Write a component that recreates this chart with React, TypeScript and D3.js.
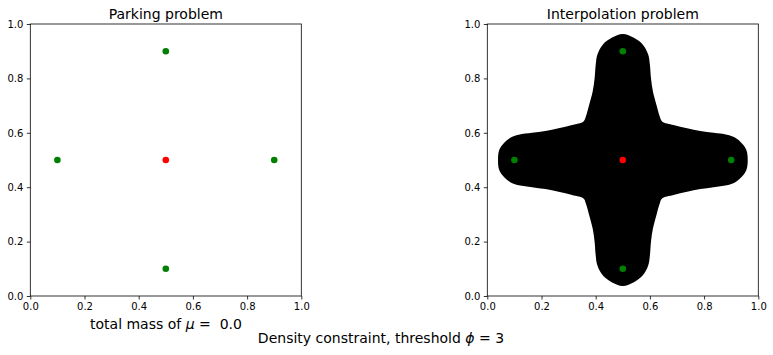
import { useEffect, useRef } from "react";
import * as d3 from "d3";

// tick labels shared by both panels
const tickValues = [0, 0.2, 0.4, 0.6, 0.8, 1.0];

// points of the problem (same on both panels)
const greenPoints = [
  { x: 0.5, y: 0.9 },
  { x: 0.1, y: 0.5 },
  { x: 0.9, y: 0.5 },
  { x: 0.5, y: 0.1 },
];
const redPoints = [{ x: 0.5, y: 0.5 }];

// outline of the black region on the interpolation panel
const regionOutline: [number, number][] = [
  [0.5, 0.963], [0.541, 0.949], [0.574, 0.924], [0.594, 0.887], [0.6, 0.85],
  [0.604, 0.801], [0.611, 0.753], [0.624, 0.703], [0.636, 0.661], [0.645, 0.642],
  [0.687, 0.629], [0.737, 0.617], [0.786, 0.607], [0.835, 0.6], [0.884, 0.593],
  [0.915, 0.582], [0.94, 0.561], [0.956, 0.537], [0.961, 0.5], [0.956, 0.463],
  [0.94, 0.439], [0.915, 0.418], [0.884, 0.407], [0.835, 0.4], [0.786, 0.393],
  [0.737, 0.383], [0.687, 0.371], [0.645, 0.358],
  [0.636, 0.339], [0.624, 0.297], [0.611, 0.247], [0.604, 0.199], [0.6, 0.15],
  [0.594, 0.113], [0.574, 0.076], [0.541, 0.051], [0.5, 0.037], [0.459, 0.051],
  [0.426, 0.076], [0.406, 0.113], [0.4, 0.15], [0.396, 0.199], [0.389, 0.247],
  [0.376, 0.297], [0.364, 0.339], [0.355, 0.358],
  [0.313, 0.371], [0.263, 0.383], [0.214, 0.393], [0.165, 0.4], [0.116, 0.407],
  [0.085, 0.418], [0.06, 0.439], [0.044, 0.463], [0.0395, 0.5], [0.044, 0.537],
  [0.06, 0.561], [0.085, 0.582], [0.116, 0.593], [0.165, 0.6], [0.214, 0.607],
  [0.263, 0.617], [0.313, 0.629], [0.355, 0.642],
  [0.364, 0.661], [0.376, 0.703], [0.389, 0.753], [0.396, 0.801], [0.4, 0.85],
  [0.406, 0.887], [0.426, 0.924], [0.459, 0.949],
];

const panels = [
  { title: "Parking problem", left: 30.3, region: null },
  { title: "Interpolation problem", left: 487.3, region: regionOutline },
];

const FONT = "DejaVu Sans";

const App = () => {
  const svgRef = useRef<SVGSVGElement | null>(null);

  useEffect(() => {
    const svg = d3.select(svgRef.current);
    svg.selectAll("*").remove();

    const top = 24;
    const size = 272;

    panels.forEach((p) => {
      const x = d3.scaleLinear().domain([0, 1]).range([0, size - 1]);
      const y = d3.scaleLinear().domain([0, 1]).range([size, 0]);

      const g = svg.append("g").attr("transform", `translate(${p.left},${top})`);

      if (p.region) {
        const line = d3
          .line<[number, number]>()
          .x((d) => x(d[0]))
          .y((d) => y(d[1]))
          .curve(d3.curveCatmullRomClosed.alpha(0.5));
        g.append("path").attr("d", line(p.region)).attr("fill", "black");
      }

      g.selectAll(".green")
        .data(greenPoints)
        .enter()
        .append("circle")
        .attr("cx", (d) => x(d.x))
        .attr("cy", (d) => y(d.y))
        .attr("r", 3.3)
        .attr("fill", "#008000");

      g.selectAll(".red")
        .data(redPoints)
        .enter()
        .append("circle")
        .attr("cx", (d) => x(d.x))
        .attr("cy", (d) => y(d.y))
        .attr("r", 3.3)
        .attr("fill", "#ff0000");

      const xAxis = g
        .append("g")
        .attr("transform", `translate(0,${size})`)
        .call(d3.axisBottom(x).tickValues(tickValues).tickSize(3.5).tickPadding(3.5).tickFormat(d3.format(".1f")));
      const yAxis = g
        .append("g")
        .call(d3.axisLeft(y).tickValues(tickValues).tickSize(3.5).tickPadding(3.5).tickFormat(d3.format(".1f")));

      [xAxis, yAxis].forEach((a) => {
        a.select(".domain").remove();
        a.selectAll(".tick line").attr("stroke", "black").attr("stroke-width", 0.8);
        a.selectAll(".tick text").attr("fill", "black").style("font-family", FONT).style("font-size", "10px");
      });

      g.append("rect")
        .attr("x", 0)
        .attr("y", 0)
        .attr("width", size - 1)
        .attr("height", size)
        .attr("fill", "none")
        .attr("stroke", "black")
        .attr("stroke-width", 0.8);

      g.append("text")
        .attr("x", (size - 1) / 2)
        .attr("y", -5)
        .attr("text-anchor", "middle")
        .style("font-family", FONT)
        .style("font-size", "14px")
        .attr("fill", "black")
        .text(p.title);
    });

    // xlabel of the left panel
    const massLabel = svg
      .append("text")
      .attr("x", 166)
      .attr("y", 329)
      .attr("text-anchor", "middle")
      .style("font-family", FONT)
      .style("font-size", "14px")
      .attr("fill", "black")
      .attr("xml:space", "preserve");
    massLabel.append("tspan").text("total mass of ");
    massLabel.append("tspan").style("font-style", "italic").text("μ");
    massLabel.append("tspan").text(" =  0.0");

    // figure caption
    const caption = svg
      .append("text")
      .attr("x", 381)
      .attr("y", 343)
      .attr("text-anchor", "middle")
      .style("font-family", FONT)
      .style("font-size", "14px")
      .attr("fill", "black");
    caption.append("tspan").text("Density constraint, threshold ");
    caption.append("tspan").style("font-style", "italic").text("ϕ");
    caption.append("tspan").text(" = 3");
  }, []);

  return (
    <div style={{ position: "absolute", left: 0, top: 0 }}>
      <svg ref={svgRef} width={773} height={355} style={{ display: "block", background: "white" }}></svg>
    </div>
  );
};

export default App;
